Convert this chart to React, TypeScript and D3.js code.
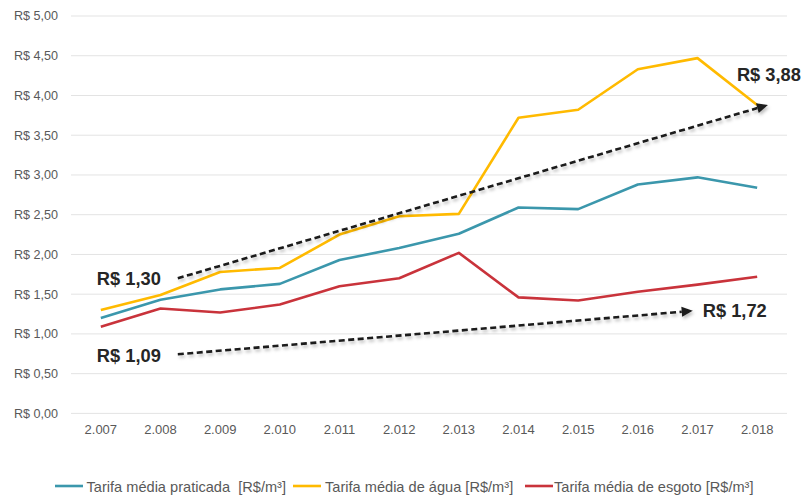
import React from "react";
import * as d3 from "d3";

// Tarifas médias por ano (R$/m³)
const years = ["2.007", "2.008", "2.009", "2.010", "2.011", "2.012", "2.013", "2.014", "2.015", "2.016", "2.017", "2.018"];
const tarifaPraticada = [1.2, 1.43, 1.56, 1.63, 1.93, 2.08, 2.26, 2.59, 2.57, 2.88, 2.97, 2.84];
const tarifaAgua = [1.3, 1.49, 1.78, 1.83, 2.25, 2.48, 2.51, 3.72, 3.82, 4.33, 4.47, 3.88];
const tarifaEsgoto = [1.09, 1.32, 1.27, 1.37, 1.6, 1.7, 2.02, 1.46, 1.42, 1.53, 1.62, 1.72];
const yTicks = [0, 0.5, 1, 1.5, 2, 2.5, 3, 3.5, 4, 4.5, 5];

const seriesNames = [
  "Tarifa média praticada  [R$/m³]",
  "Tarifa média de água [R$/m³]",
  "Tarifa média de esgoto [R$/m³]",
];
const seriesColors = ["#3B97AC", "#FFBA00", "#C9333B"];
const seriesValues = [tarifaPraticada, tarifaAgua, tarifaEsgoto];

// Trend arrows in data units: [x index, value] start and end
const trendAgua = { from: [1.29, 1.7], to: [11.18, 3.88], start: "R$ 1,30", end: "R$ 3,88" };
const trendEsgoto = { from: [1.29, 0.744], to: [9.92, 1.29], start: "R$ 1,09", end: "R$ 1,72" };

const W = 803;
const H = 498;
const FONT = "'Liberation Sans', Arial, Helvetica, sans-serif";

export default function App() {
  const x = d3.scaleBand<string>().domain(years).range([71, 787]);
  const y = d3.scaleLinear().domain([0, 5]).range([413.4, 16]);
  const step = x.step();
  const cx = (i: number) => (x(years[0]) as number) + step / 2 + i * step;
  const line = d3
    .line<number>()
    .x((_, i) => cx(i))
    .y((v) => y(v));

  const fmt = (v: number) => "R$ " + v.toFixed(2).replace(".", ",");

  const arrow = (t: typeof trendAgua, key: string) => {
    const x1 = cx(t.from[0]);
    const y1 = y(t.from[1]);
    const x2 = cx(t.to[0]);
    const y2 = y(t.to[1]);
    const ang = Math.atan2(y2 - y1, x2 - x1);
    const len = 11;
    const half = 5;
    const bx = x2 - len * Math.cos(ang);
    const by = y2 - len * Math.sin(ang);
    const px = -Math.sin(ang) * half;
    const py = Math.cos(ang) * half;
    return (
      <g key={key} filter="url(#shadow)">
        <line x1={x1} y1={y1} x2={bx} y2={by} stroke="#1a1a1a" strokeWidth={2.6} strokeDasharray="6,3.5" />
        <path d={`M${x2},${y2}L${bx + px},${by + py}L${bx - px},${by - py}Z`} fill="#1a1a1a" />
      </g>
    );
  };

  const labelStyle = { fontFamily: FONT, fontSize: 18.3, fontWeight: 700, fill: "#262626" } as const;

  const legendItems = [
    { lx: 55, tx: 86.5 },
    { lx: 293, tx: 325 },
    { lx: 525, tx: 554 },
  ];

  return (
    <svg width={W} height={H} style={{ position: "absolute", left: 0, top: 0, background: "#fff" }}>
      <defs>
        <filter id="shadow" x="-10%" y="-50%" width="120%" height="200%">
          <feDropShadow dx="1.5" dy="2.5" stdDeviation="1.5" floodColor="#000" floodOpacity="0.25" />
        </filter>
      </defs>
      <rect width={W} height={H} fill="#fff" />
      {/* grid and y axis */}
      {yTicks.map((t) => (
        <g key={t}>
          <line x1={71} x2={787} y1={y(t)} y2={y(t)} stroke="#E3E3E3" strokeWidth={1} />
          <text
            x={58}
            y={y(t)}
            dy="0.35em"
            textAnchor="end"
            style={{ fontFamily: FONT, fontSize: 12.6, fill: "#595959" }}
          >
            {fmt(t)}
          </text>
        </g>
      ))}
      {/* x axis labels */}
      {years.map((yr, i) => (
        <text
          key={yr}
          x={cx(i)}
          y={434.3}
          textAnchor="middle"
          style={{ fontFamily: FONT, fontSize: 13, fill: "#595959" }}
        >
          {yr}
        </text>
      ))}
      {/* series */}
      {seriesValues.map((vals, k) => (
        <path
          key={k}
          d={line(vals) || ""}
          fill="none"
          stroke={seriesColors[k]}
          strokeWidth={2.6}
          strokeLinejoin="round"
        />
      ))}
      {/* trend arrows */}
      {arrow(trendAgua, "a")}
      {arrow(trendEsgoto, "e")}
      <text x={cx(trendAgua.from[0]) - 17} y={y(trendAgua.from[1]) + 7} textAnchor="end" style={labelStyle}>
        {trendAgua.start}
      </text>
      <text x={cx(trendAgua.to[0]) - 31} y={y(trendAgua.to[1]) - 24} style={labelStyle}>
        {trendAgua.end}
      </text>
      <text x={cx(trendEsgoto.from[0]) - 17} y={y(trendEsgoto.from[1]) + 8} textAnchor="end" style={labelStyle}>
        {trendEsgoto.start}
      </text>
      <text x={cx(trendEsgoto.to[0]) + 10} y={y(trendEsgoto.to[1]) + 6.5} style={labelStyle}>
        {trendEsgoto.end}
      </text>
      {/* legend */}
      {legendItems.map((it, k) => (
        <g key={k}>
          <line x1={it.lx} x2={it.lx + 28} y1={486} y2={486} stroke={seriesColors[k]} strokeWidth={2.6} />
          <text
            x={it.tx}
            y={491.5}
            style={{ fontFamily: FONT, fontSize: 14.6, fill: "#595959", whiteSpace: "pre" }}
          >
            {seriesNames[k]}
          </text>
        </g>
      ))}
    </svg>
  );
}
